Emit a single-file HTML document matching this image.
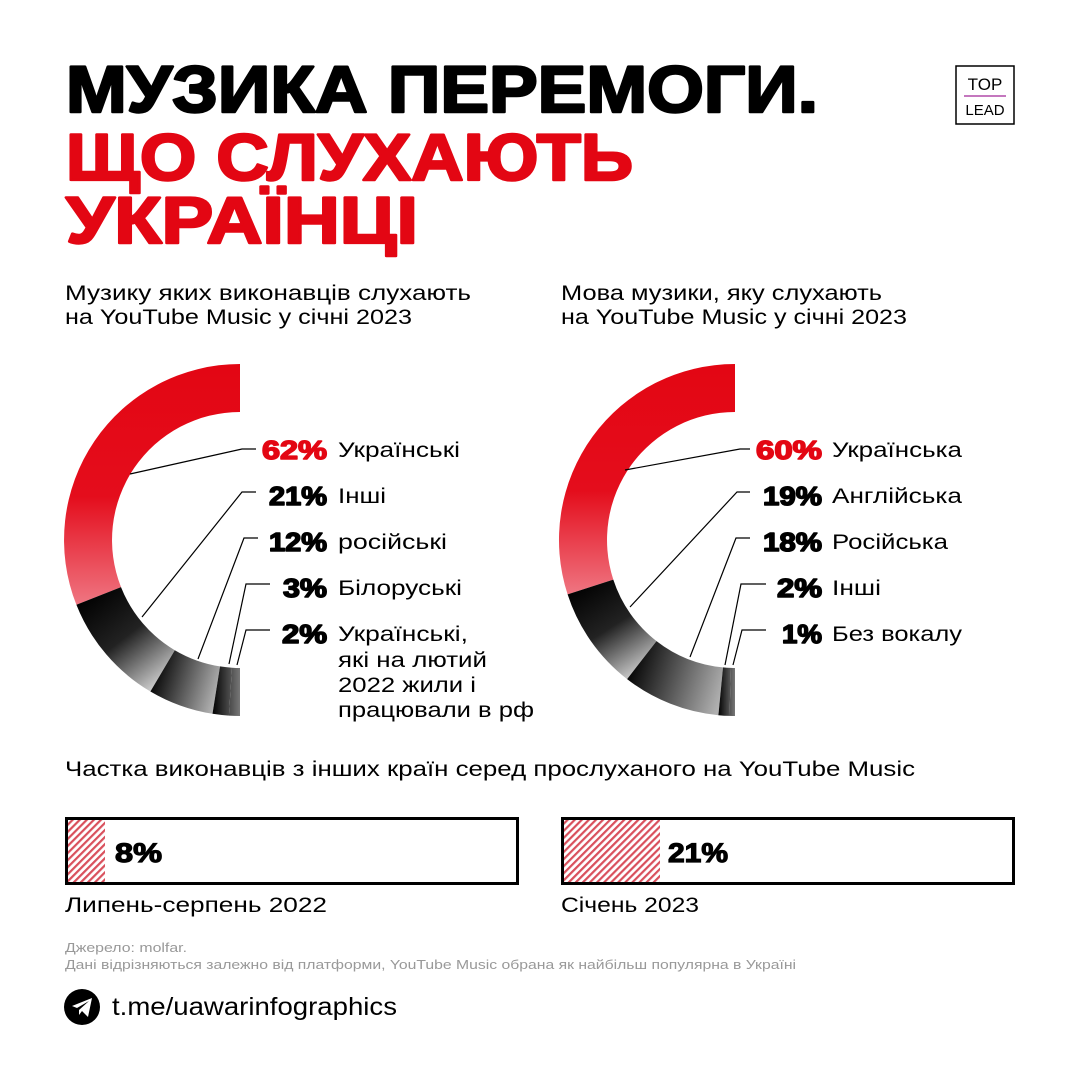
<!DOCTYPE html>
<html><head><meta charset="utf-8"><style>
html,body{margin:0;padding:0;background:#fff}
svg{display:block}
text{font-family:"Liberation Sans",sans-serif}
</style></head><body>
<svg width="1080" height="1080" viewBox="0 0 1080 1080" xmlns="http://www.w3.org/2000/svg">
<defs>
<linearGradient id="red" gradientUnits="userSpaceOnUse" x1="0" y1="364" x2="0" y2="605">
<stop offset="0" stop-color="#e30613"/><stop offset="0.55" stop-color="#e40d1c"/><stop offset="1" stop-color="#ef7682"/></linearGradient>
<linearGradient id="b1" gradientUnits="userSpaceOnUse" x1="80" y1="600" x2="150" y2="690">
<stop offset="0" stop-color="#000"/><stop offset="0.5" stop-color="#222"/><stop offset="1" stop-color="#c8c8c8"/></linearGradient>
<linearGradient id="b2" gradientUnits="userSpaceOnUse" x1="150" y1="680" x2="215" y2="700">
<stop offset="0" stop-color="#000"/><stop offset="1" stop-color="#b0b0b0"/></linearGradient>
<linearGradient id="b3" gradientUnits="userSpaceOnUse" x1="212" y1="0" x2="240" y2="0">
<stop offset="0" stop-color="#000"/><stop offset="1" stop-color="#777"/></linearGradient>
<linearGradient id="rred" gradientUnits="userSpaceOnUse" x1="0" y1="364" x2="0" y2="595">
<stop offset="0" stop-color="#e30613"/><stop offset="0.55" stop-color="#e40d1c"/><stop offset="1" stop-color="#ef7682"/></linearGradient>
<linearGradient id="r1" gradientUnits="userSpaceOnUse" x1="570" y1="590" x2="627" y2="680">
<stop offset="0" stop-color="#000"/><stop offset="0.5" stop-color="#222"/><stop offset="1" stop-color="#c8c8c8"/></linearGradient>
<linearGradient id="r2" gradientUnits="userSpaceOnUse" x1="627" y1="670" x2="720" y2="700">
<stop offset="0" stop-color="#000"/><stop offset="1" stop-color="#b0b0b0"/></linearGradient>
<linearGradient id="r3" gradientUnits="userSpaceOnUse" x1="718" y1="0" x2="735" y2="0">
<stop offset="0" stop-color="#000"/><stop offset="1" stop-color="#777"/></linearGradient>
<pattern id="hatch" width="5" height="5" patternUnits="userSpaceOnUse" patternTransform="rotate(45)">
<rect width="5" height="5" fill="#fff"/><rect width="2.2" height="5" fill="#d9505c"/></pattern>
</defs>

<!-- Title -->
<g stroke-width="2.5" stroke-linejoin="round">
<text x="66" y="112" font-size="66" font-weight="bold" fill="#000" stroke="#000" textLength="752" lengthAdjust="spacingAndGlyphs">МУЗИКА ПЕРЕМОГИ.</text>
<text x="66" y="180" font-size="66" font-weight="bold" fill="#e30613" stroke="#e30613" textLength="567" lengthAdjust="spacingAndGlyphs">ЩО СЛУХАЮТЬ</text>
<text x="66" y="243" font-size="66" font-weight="bold" fill="#e30613" stroke="#e30613" textLength="352" lengthAdjust="spacingAndGlyphs">УКРАЇНЦІ</text>
</g>

<!-- Logo -->
<rect x="956" y="66" width="58" height="58" fill="none" stroke="#000" stroke-width="1.5"/>
<text x="985" y="90" font-size="17" text-anchor="middle">TOP</text>
<line x1="964" y1="96" x2="1006" y2="96" stroke="#b04aa8" stroke-width="1.5"/>
<text x="985" y="115" font-size="15" text-anchor="middle">LEAD</text>

<!-- subtitles -->
<g font-size="21" lengthAdjust="spacingAndGlyphs">
<text x="65" y="300" textLength="406" lengthAdjust="spacingAndGlyphs">Музику яких виконавців слухають</text>
<text x="65" y="324" textLength="347" lengthAdjust="spacingAndGlyphs">на YouTube Music у січні 2023</text>
<text x="561" y="300" textLength="321" lengthAdjust="spacingAndGlyphs">Мова музики, яку слухають</text>
<text x="561" y="324" textLength="346" lengthAdjust="spacingAndGlyphs">на YouTube Music у січні 2023</text>
</g>

<!-- Left donut -->
<path d="M240,364 A176,176 0 0 0 76.4,604.8 L121,587.1 A128,128 0 0 1 240,412 Z" fill="url(#red)"/>
<path d="M76.4,604.8 A176,176 0 0 0 150.4,691.5 L174.8,650.2 A128,128 0 0 1 121,587.1 Z" fill="url(#b1)"/>
<path d="M150.4,691.5 A176,176 0 0 0 212.5,713.8 L220,666.4 A128,128 0 0 1 174.8,650.2 Z" fill="url(#b2)"/>
<path d="M212.5,713.8 A176,176 0 0 0 228.9,715.6 L232,667.7 A128,128 0 0 1 220,666.4 Z" fill="url(#b3)"/>
<path d="M228.9,715.6 A176,176 0 0 0 240,716 L240,668 A128,128 0 0 1 232,667.7 Z" fill="url(#b3)"/>
<g stroke="#000" stroke-width="1.2" fill="none">
<polyline points="130,474 242,449 256,449"/>
<polyline points="142,617 242,492 256,492"/>
<polyline points="198,659 244,538 258,538"/>
<polyline points="229,664 246,584 270,584"/>
<polyline points="237,665 246,630 270,630"/>
</g>
<g font-size="26" font-weight="bold" stroke-width="1.5" stroke-linejoin="round">
<text x="262" y="459" fill="#e30613" stroke="#e30613" textLength="65" lengthAdjust="spacingAndGlyphs">62%</text>
<text x="269" y="505" stroke="#000" textLength="58" lengthAdjust="spacingAndGlyphs">21%</text>
<text x="269" y="551" stroke="#000" textLength="58" lengthAdjust="spacingAndGlyphs">12%</text>
<text x="283" y="597" stroke="#000" textLength="44" lengthAdjust="spacingAndGlyphs">3%</text>
<text x="282" y="643" stroke="#000" textLength="45" lengthAdjust="spacingAndGlyphs">2%</text>
</g>
<g font-size="21">
<text x="338" y="457" textLength="122" lengthAdjust="spacingAndGlyphs">Українські</text>
<text x="338" y="503" textLength="48" lengthAdjust="spacingAndGlyphs">Інші</text>
<text x="338" y="549" textLength="109" lengthAdjust="spacingAndGlyphs">російські</text>
<text x="338" y="595" textLength="124" lengthAdjust="spacingAndGlyphs">Білоруські</text>
<text x="338" y="641" textLength="130" lengthAdjust="spacingAndGlyphs">Українські,</text>
<text x="338" y="667" textLength="149" lengthAdjust="spacingAndGlyphs">які на лютий</text>
<text x="338" y="692" textLength="138" lengthAdjust="spacingAndGlyphs">2022 жили і</text>
<text x="338" y="717" textLength="196" lengthAdjust="spacingAndGlyphs">працювали в рф</text>
</g>

<!-- Right donut -->
<path d="M735,364 A176,176 0 0 0 567.6,594.4 L613.3,579.6 A128,128 0 0 1 735,412 Z" fill="url(#rred)"/>
<path d="M567.6,594.4 A176,176 0 0 0 627.1,679.1 L656.5,641.1 A128,128 0 0 1 613.3,579.6 Z" fill="url(#r1)"/>
<path d="M627.1,679.1 A176,176 0 0 0 718.4,715.2 L723,667.4 A128,128 0 0 1 656.5,641.1 Z" fill="url(#r2)"/>
<path d="M718.4,715.2 A176,176 0 0 0 729.5,715.9 L731,667.9 A128,128 0 0 1 723,667.4 Z" fill="url(#r3)"/>
<path d="M729.5,715.9 A176,176 0 0 0 735,716 L735,668 A128,128 0 0 1 731,667.9 Z" fill="url(#r3)"/>
<g stroke="#000" stroke-width="1.2" fill="none">
<polyline points="625,470 740,449 750,449"/>
<polyline points="630,607 737,492 750,492"/>
<polyline points="690,657 736,538 750,538"/>
<polyline points="725,665 741,584 766,584"/>
<polyline points="733,665 742,630 766,630"/>
</g>
<g font-size="26" font-weight="bold" stroke-width="1.5" stroke-linejoin="round">
<text x="756" y="459" fill="#e30613" stroke="#e30613" textLength="66" lengthAdjust="spacingAndGlyphs">60%</text>
<text x="763" y="505" stroke="#000" textLength="59" lengthAdjust="spacingAndGlyphs">19%</text>
<text x="763" y="551" stroke="#000" textLength="59" lengthAdjust="spacingAndGlyphs">18%</text>
<text x="777" y="597" stroke="#000" textLength="45" lengthAdjust="spacingAndGlyphs">2%</text>
<text x="782" y="643" stroke="#000" textLength="40" lengthAdjust="spacingAndGlyphs">1%</text>
</g>
<g font-size="21">
<text x="832" y="457" textLength="130" lengthAdjust="spacingAndGlyphs">Українська</text>
<text x="832" y="503" textLength="130" lengthAdjust="spacingAndGlyphs">Англійська</text>
<text x="832" y="549" textLength="116" lengthAdjust="spacingAndGlyphs">Російська</text>
<text x="832" y="595" textLength="49" lengthAdjust="spacingAndGlyphs">Інші</text>
<text x="832" y="641" textLength="130" lengthAdjust="spacingAndGlyphs">Без вокалу</text>
</g>

<!-- Bars -->
<text x="65" y="776" font-size="21" textLength="850" lengthAdjust="spacingAndGlyphs">Частка виконавців з інших країн серед прослуханого на YouTube Music</text>
<rect x="66.5" y="818.5" width="451" height="65" fill="#fff" stroke="#000" stroke-width="3"/>
<rect x="68" y="820" width="37" height="62" fill="url(#hatch)"/>
<text x="115" y="862" font-size="27" font-weight="bold" stroke="#000" stroke-width="1.2" textLength="47" lengthAdjust="spacingAndGlyphs">8%</text>
<rect x="562.5" y="818.5" width="451" height="65" fill="#fff" stroke="#000" stroke-width="3"/>
<rect x="564" y="820" width="96" height="62" fill="url(#hatch)"/>
<text x="668" y="862" font-size="27" font-weight="bold" stroke="#000" stroke-width="1.2" textLength="60" lengthAdjust="spacingAndGlyphs">21%</text>
<text x="65" y="912" font-size="21" textLength="262" lengthAdjust="spacingAndGlyphs">Липень-серпень 2022</text>
<text x="561" y="912" font-size="21" textLength="138" lengthAdjust="spacingAndGlyphs">Січень 2023</text>

<!-- Source -->
<text x="65" y="952" font-size="12.5" fill="#999" textLength="122" lengthAdjust="spacingAndGlyphs">Джерело: molfar.</text>
<text x="65" y="969" font-size="12.5" fill="#999" textLength="731" lengthAdjust="spacingAndGlyphs">Дані відрізняються залежно від платформи, YouTube Music обрана як найбільш популярна в Україні</text>

<!-- Telegram -->
<circle cx="82" cy="1007" r="18" fill="#000"/>
<path d="M72,1006 L92,998 L88,1017 L82,1011 L79,1015 L79,1010 L89,1001 L77,1008 Z" fill="#fff"/>
<text x="112" y="1015" font-size="25" textLength="285" lengthAdjust="spacingAndGlyphs">t.me/uawarinfographics</text>
</svg>
</body></html>
